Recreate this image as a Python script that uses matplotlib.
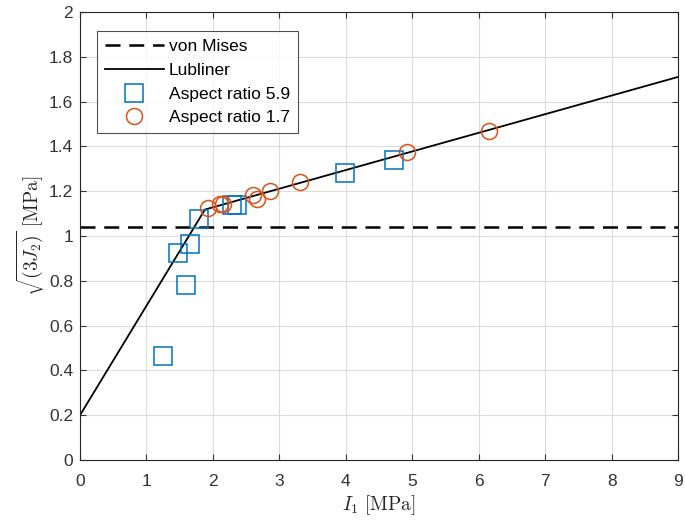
import matplotlib.pyplot as plt

plt.rcParams['mathtext.fontset'] = 'cm'
plt.rcParams['font.family'] = ['Liberation Sans', 'DejaVu Sans']

# Yield surfaces
von_mises = 1.04
lub_I1 = [0.0, 1.88, 9.0]
lub_J = [0.20, 1.118, 1.71]

# Test data, aspect ratio 5.9 (squares)
ar59_I1 = [1.25, 1.47, 1.65, 1.59, 1.79, 2.28, 2.36, 3.99, 4.73]
ar59_J = [0.465, 0.925, 0.965, 0.78, 1.076, 1.138, 1.138, 1.28, 1.34]

# Test data, aspect ratio 1.7 (circles)
ar17_I1 = [1.93, 2.10, 2.15, 2.60, 2.66, 2.86, 3.31, 4.92, 6.16]
ar17_J = [1.125, 1.144, 1.141, 1.183, 1.165, 1.200, 1.240, 1.375, 1.470]

fig = plt.figure(figsize=(6.85, 5.23), dpi=100)
ax = fig.add_axes([0.1168, 0.1205, 0.873, 0.8566])

ax.axhline(von_mises, color='k', ls=(0, (6, 3.5)), lw=1.8, label='von Mises')
ax.plot(lub_I1, lub_J, 'k-', lw=1.3, label='Lubliner')
ax.plot(ar59_I1, ar59_J, 's', ms=12.5, mfc='none', mec='#0072BD', mew=1.1,
        ls='none', label='Aspect ratio 5.9')
ax.plot(ar17_I1, ar17_J, 'o', ms=11.5, mfc='none', mec='#D95319', mew=1.1,
        ls='none', label='Aspect ratio 1.7')

ax.set_xlim(0, 9)
ax.set_ylim(0, 2)
ax.set_xticks(range(10))
ax.set_yticks([i / 5 for i in range(11)])
ax.set_yticklabels(['0', '0.2', '0.4', '0.6', '0.8', '1', '1.2', '1.4', '1.6', '1.8', '2'])
ax.grid(True, color='#dcdcdc', lw=0.8)
ax.set_axisbelow(True)
ax.tick_params(labelsize=12.5, colors='#333333', length=4, direction='in', top=True, right=True)
ax.tick_params(axis='x', pad=10)
ax.tick_params(axis='y', pad=5)
for s in ax.spines.values():
    s.set_color('#262626')
    s.set_linewidth(0.8)

ax.set_xlabel(r'$I_1\ \mathrm{[MPa]}$', fontsize=14, color='#262626', labelpad=3)
ax.set_ylabel(r'$\sqrt{(3J_2)}\ \mathrm{[MPa]}$', fontsize=14, color='#262626', labelpad=1)

leg = ax.legend(loc='upper left', bbox_to_anchor=(0.028, 0.9576), fontsize=12.5,
                frameon=True, fancybox=False, edgecolor='#262626', borderaxespad=0,
                handlelength=3.4, borderpad=0.45, labelspacing=0.5, handletextpad=0.3)
leg.get_frame().set_linewidth(0.8)

fig.savefig('out.png', dpi=100)
